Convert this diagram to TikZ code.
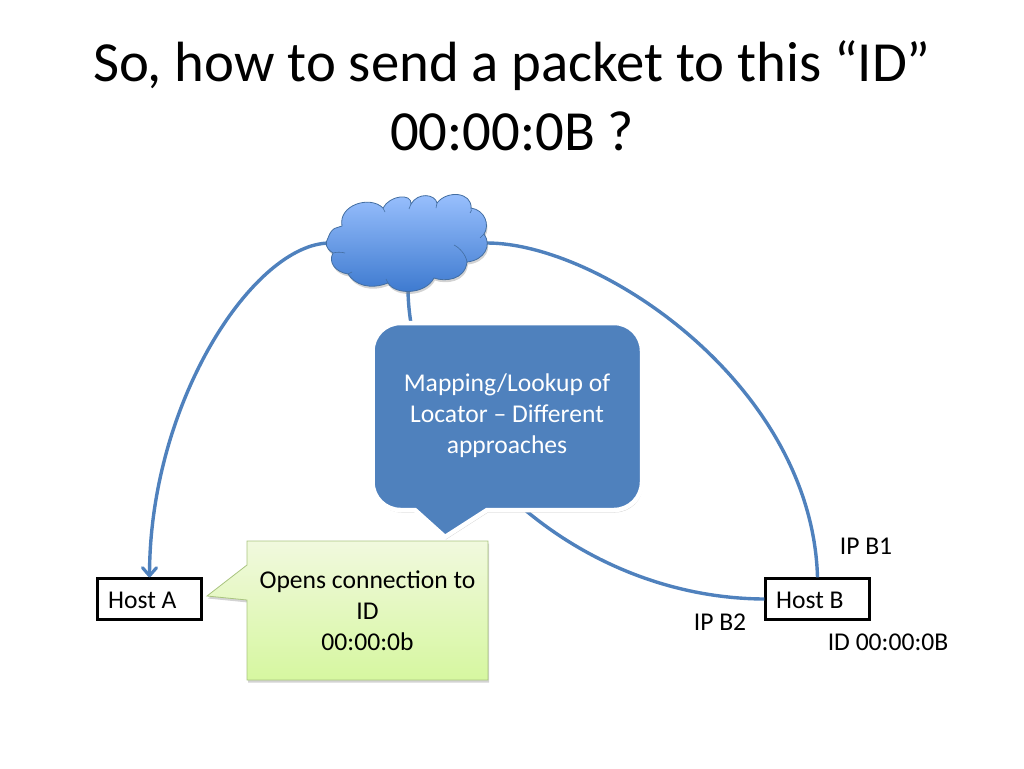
\documentclass[tikz,border=0pt]{standalone}
\usepackage{fontspec}
\setmainfont{Carlito}
\usetikzlibrary{shadows,arrows.meta}
\definecolor{linkblue}{HTML}{4F81BD}
\definecolor{greenedge}{HTML}{A9C47F}
\definecolor{cloudtop}{HTML}{9CC2FF}
\definecolor{cloudbot}{HTML}{3B78CE}
\definecolor{greentop}{HTML}{F1F9DE}
\definecolor{greenbot}{HTML}{D6F7A0}
\tikzset{
    host/.style={draw=black,line width=2.4pt,minimum width=104pt,minimum height=41pt,inner sep=0pt},
    link/.style={draw=linkblue,line width=3.4pt},
    label/.style={font=\fontsize{25.6}{31}\selectfont,inner sep=0pt},
    softshadow/.style={drop shadow={shadow xshift=1pt,shadow yshift=-2.5pt,opacity=.35}}
}
\begin{document}
\begin{tikzpicture}[x=1pt,y=-1pt]
    \useasboundingbox (0,0) rectangle (1024,768);

    \node[inner sep=0pt,align=center,font=\fontsize{56.7}{69}\selectfont] (title) at (512,96) {So, how to send a packet to this “ID”\\00:00:0B ?};

    \node[host] (hosta) at (149.5,599) {};
    \node[host] (hostb) at (817.5,599) {};
    \node[label,anchor=west] (hostalabel) at (108,600) {Host A};
    \node[label,anchor=west] (hostblabel) at (776,600) {Host B};
    \node[label] (ipb1) at (866,546) {IP B1};
    \node[label] (ipb2) at (720,622) {IP B2};
    \node[label] (idb) at (888,642) {ID 00:00:0B};

    \coordinate (cloudl) at (330,243);
    \coordinate (cloudr) at (487,243);
    \coordinate (cloudb) at (408,290);

    % links run behind the cloud and the callouts
    \draw[link,-{Straight Barb[length=8pt,width=14pt,line width=3.2pt,round]}] (cloudl) .. controls (255,243) and (150,400) .. (hosta.north);
    \draw[link] (cloudr) .. controls (600,243) and (812,385) .. (hostb.north);
    \draw[link] (cloudb) .. controls (410,440) and (570,598) .. (hostb.west);

    % cloud
    \draw[draw=linkblue!85!black,line width=.8pt,top color=cloudtop,bottom color=cloudbot,softshadow]
        (328,238) .. controls (332,226) and (338,228) .. (342,226)
        .. controls (338,205) and (370,195) .. (383,208)
        .. controls (390,195) and (412,193) .. (411,204)
        .. controls (418,192) and (435,194) .. (437,203)
        .. controls (447,190) and (472,192) .. (471,208)
        .. controls (485,210) and (490,225) .. (484,234)
        .. controls (492,245) and (485,260) .. (467,262)
        .. controls (465,280) and (445,282) .. (434,278)
        .. controls (425,295) and (395,295) .. (388,283)
        .. controls (370,290) and (355,285) .. (348,274)
        .. controls (335,272) and (328,262) .. (333,253)
        .. controls (325,248) and (325,243) .. (328,238) -- cycle;
    \draw[draw=linkblue!85!black,line width=.6pt]
        (333,253) .. controls (337,252) and (341,252) .. (345,253)
        (383,208) -- (385,212)
        (411,204) -- (409,209)
        (437,203) -- (436,208)
        (471,208) .. controls (472,210) and (471,212) .. (470,213)
        (484,234) .. controls (482,236) and (481,237) .. (480,238)
        (467,262) .. controls (466,255) and (460,248) .. (454,245)
        (388,283) -- (386,279)
        (348,274) -- (352,272);

    % blue callout
    \draw[fill=linkblue,draw=white,line width=4.5pt,softshadow]
        (400.5,323) -- (614,323) arc[start angle=-90,end angle=0,radius=28]
        -- (642,482) arc[start angle=0,end angle=90,radius=28]
        -- (487,510) -- (445,537) -- (415,510) -- (400.5,510)
        arc[start angle=90,end angle=180,radius=28]
        -- (372.5,351) arc[start angle=180,end angle=270,radius=28] -- cycle;
    \node[label,text=white,align=center] (lookup) at (507,416) {Mapping/Lookup of\\Locator -- Different\\approaches};

    % green callout
    \draw[draw=greenedge,line width=.8pt,top color=greentop,bottom color=greenbot,softshadow]
        (247,541) -- (488,541) -- (488,680) -- (247,680) -- (247,600) -- (207,596) -- (247,565) -- cycle;
    \node[label,align=center] (opens) at (367.5,611) {Opens connection to\\ID\\00:00:0b};
\end{tikzpicture}
\end{document}
